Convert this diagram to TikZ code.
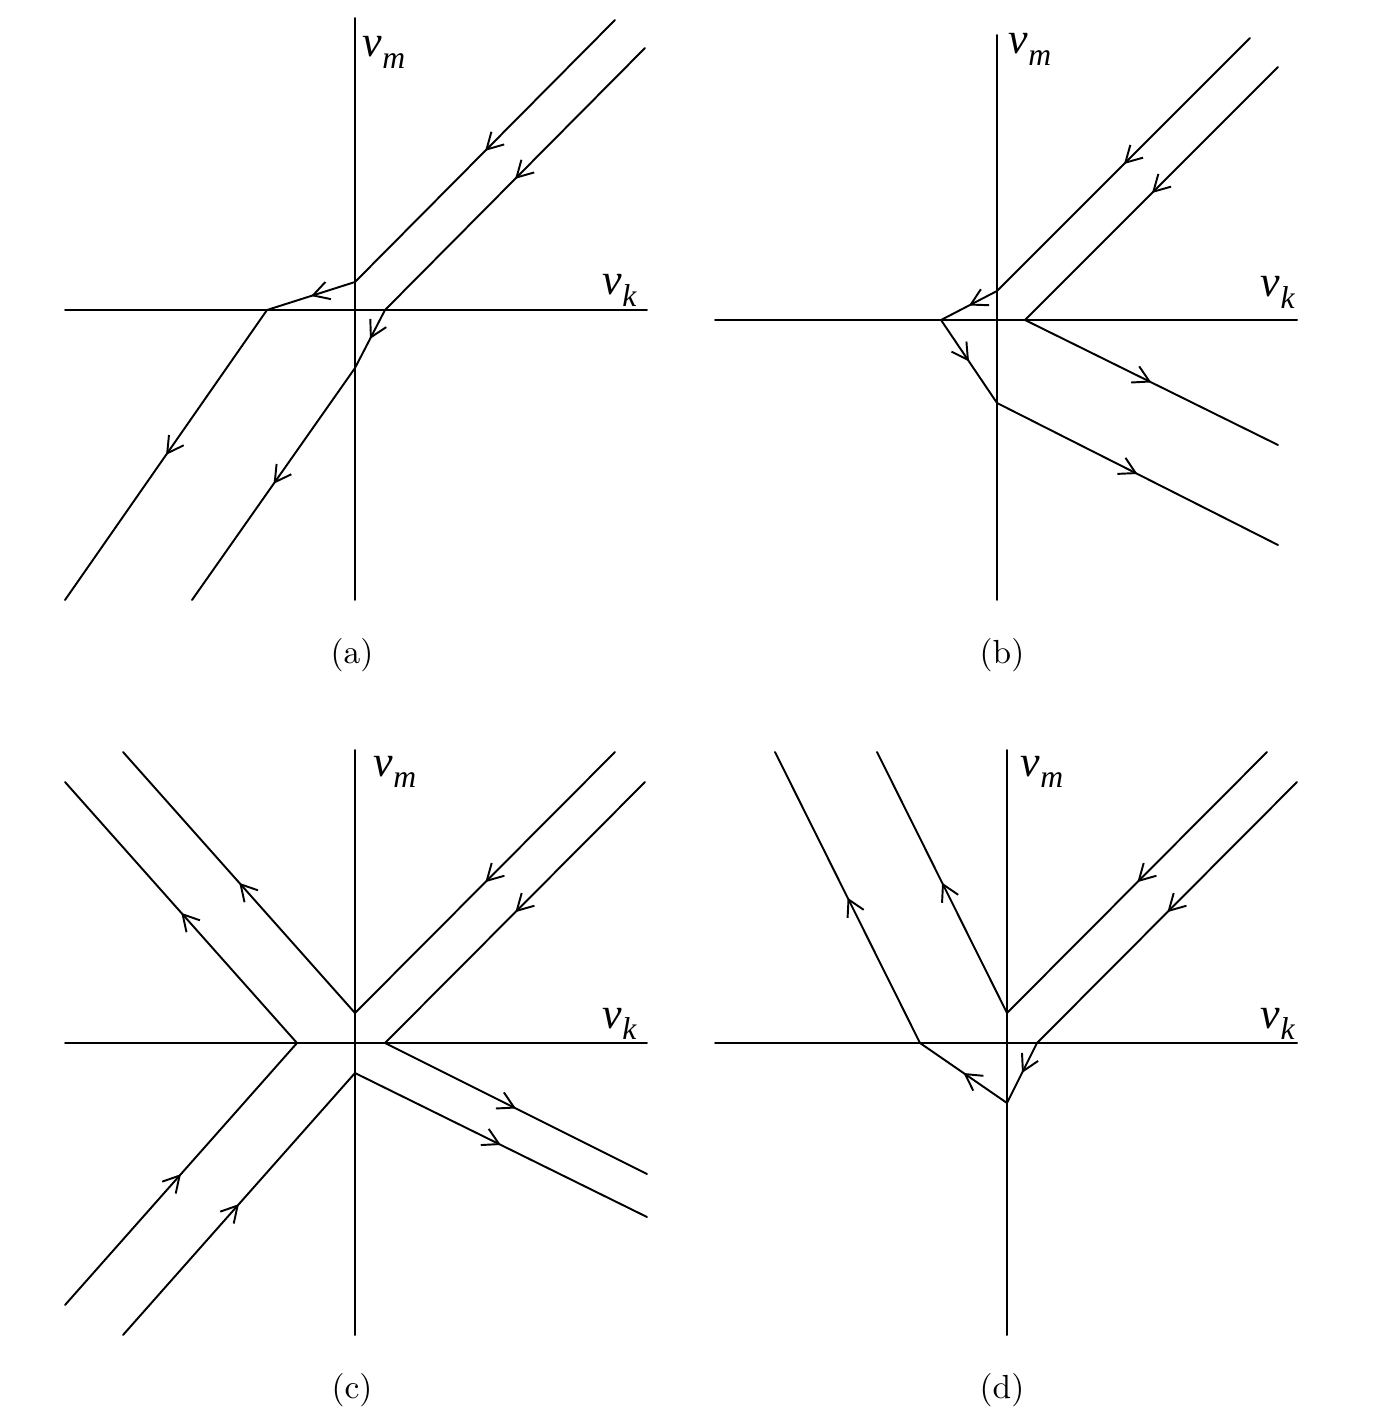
\documentclass[tikz,border=0pt]{standalone}
\usepackage{fontspec}
\newfontfamily\tms{Liberation Serif}
\usetikzlibrary{arrows.meta,decorations.markings}
\tikzset{
  flow/.style={postaction={decorate},
    decoration={markings,mark=at position 0.5 with {\arrow{Straight Barb[length=1.6mm,width=1.8mm]}}}},
  axlab/.style={inner sep=0pt,anchor=base west,font=\tms\itshape\fontsize{12.5}{13}\selectfont},
  subcap/.style={inner sep=0pt,font=\fontsize{9.5}{11}\selectfont}
}
\newcommand{\vlab}[1]{v\raisebox{-0.55ex}{\fontsize{9}{9}\selectfont #1}}
\begin{document}
\begin{tikzpicture}[x=0.01cm,y=-0.01cm,line width=0.55pt,line join=round,line cap=round]
  % coordinates in pixels of the page, y downwards
  \useasboundingbox (0,0) rectangle (1372,1416);

  % ---- (a) ----
  \draw (355,18) -- (355,600);
  \draw (65,310) -- (647,310);
  \node[axlab] (vma) at (362,57) {\vlab{m}};
  \node[axlab] (vka) at (602,295) {\vlab{k}};
  \node[subcap] (capa) at (352,655) {(a)};
  % first path
  \draw[flow] (615,20) -- (355,282);
  \draw[flow] (355,282) -- (267,310);
  \draw[flow] (267,310) -- (65,600);
  % second path
  \draw[flow] (645,48) -- (385,310);
  \draw[flow] (385,310) -- (355,368);
  \draw[flow] (355,368) -- (192,600);

  % ---- (b) ----
  \draw (997,35) -- (997,600);
  \draw (715,320) -- (1297,320);
  \node[axlab] (vmb) at (1008,54) {\vlab{m}};
  \node[axlab] (vkb) at (1260,297) {\vlab{k}};
  \node[subcap] (capb) at (1002,655) {(b)};
  \draw[flow] (1250,38) -- (997,291);
  \draw[flow] (997,291) -- (941,320);
  \draw[flow] (941,320) -- (997,403);
  \draw[flow] (997,403) -- (1278,545);
  \draw[flow] (1278,67) -- (1025,320);
  \draw[flow] (1025,320) -- (1278,445);

  % ---- (c) ----
  \draw (355,750) -- (355,1335);
  \draw (65,1043) -- (647,1043);
  \node[axlab] (vmc) at (373,776) {\vlab{m}};
  \node[axlab] (vkc) at (602,1028) {\vlab{k}};
  \node[subcap] (capc) at (352,1390) {(c)};
  \draw[flow] (615,752) -- (355,1013);
  \draw[flow] (355,1013) -- (123,752);
  \draw[flow] (645,782) -- (385,1043);
  \draw[flow] (385,1043) -- (647,1174);
  \draw[flow] (65,1305) -- (297,1043);
  \draw[flow] (297,1043) -- (65,782);
  \draw[flow] (123,1335) -- (355,1073);
  \draw[flow] (355,1073) -- (647,1217);

  % ---- (d) ----
  \draw (1007,750) -- (1007,1335);
  \draw (715,1043) -- (1297,1043);
  \node[axlab] (vmd) at (1020,776) {\vlab{m}};
  \node[axlab] (vkd) at (1260,1028) {\vlab{k}};
  \node[subcap] (capd) at (1002,1390) {(d)};
  \draw[flow] (1267,752) -- (1007,1013);
  \draw[flow] (1007,1013) -- (877,752);
  \draw[flow] (1297,782) -- (1037,1043);
  \draw[flow] (1037,1043) -- (1007,1103);
  \draw[flow] (1007,1103) -- (920,1043);
  \draw[flow] (920,1043) -- (775,752);
\end{tikzpicture}
\end{document}
